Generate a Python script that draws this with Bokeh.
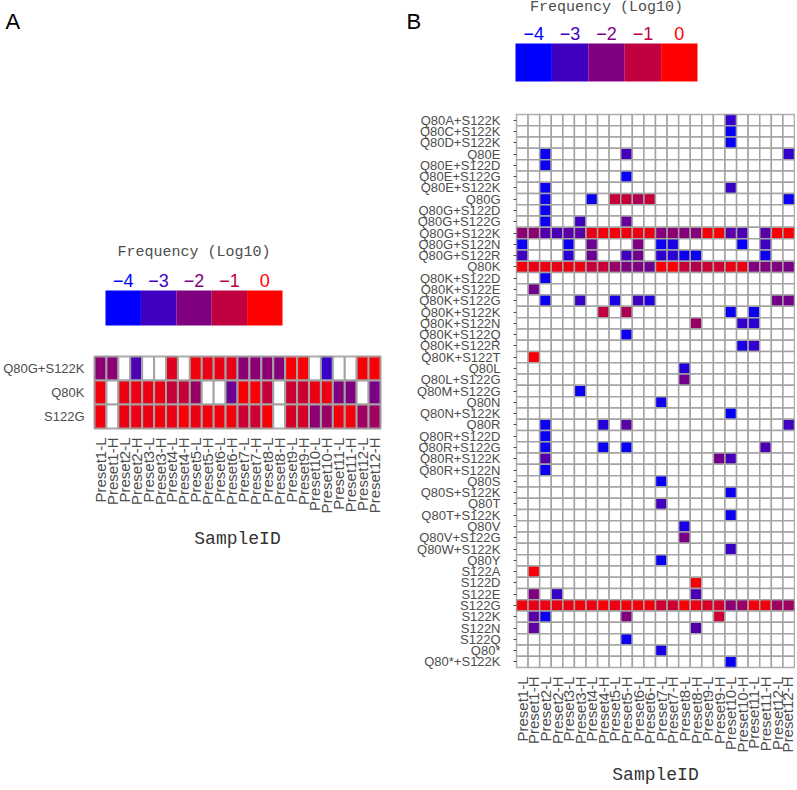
import numpy as np
from bokeh.plotting import figure
from bokeh.models import FactorRange, Range1d, ColumnDataSource, LinearColorMapper
from bokeh.transform import transform
from bokeh.layouts import row, column
from bokeh.core.properties import value
from bokeh.embed import file_html
from bokeh.resources import INLINE

# ---------------- data ----------------
samples = ["Preset1-L", "Preset1-H", "Preset2-L", "Preset2-H", "Preset3-L", "Preset3-H",
           "Preset4-L", "Preset4-H", "Preset5-L", "Preset5-H", "Preset6-L", "Preset6-H",
           "Preset7-L", "Preset7-H", "Preset8-L", "Preset8-H", "Preset9-L", "Preset9-H",
           "Preset10-L", "Preset10-H", "Preset11-L", "Preset11-H", "Preset12-L", "Preset12-H"]

legend_vals = [-4, -3, -2, -1, 0]
legend_labels = ["\u22124", "\u22123", "\u22122", "\u22121", "0"]

# Panel A (log10 frequency, None = absent)
mutations_a = ["Q80G+S122K", "Q80K", "S122G"]
a_q80g_s122k = [-1.8, -1.8, None, -2.8, None, None, -0.5, None, -0.2, -0.3, -0.3, -0.4,
                -1.8, -1.8, -1.8, -1.9, -0.1, -0.1, None, -3.1, None, None, -0.1, -0.1]
a_q80k = [-0.2, None, -0.3, -0.3, -0.3, -0.3, -0.9, -0.9, -1.6, None, None, -2.3,
          -0.1, -0.1, -0.9, None, -0.8, -0.8, -0.3, -0.3, -2.0, -2.0, None, -2.1]
a_s122g = [-0.2, None, -0.3, -0.3, -0.3, -0.2, -0.3, -0.1, -0.3, -0.2, -0.2, -0.2,
           -0.8, -0.8, -0.1, None, -0.6, -0.7, -1.8, -1.6, -0.2, -0.2, -1.5, -1.5]

# Panel B
mutations_b = ["Q80A+S122K", "Q80C+S122K", "Q80D+S122K", "Q80E", "Q80E+S122D", "Q80E+S122G",
               "Q80E+S122K", "Q80G", "Q80G+S122D", "Q80G+S122G", "Q80G+S122K", "Q80G+S122N",
               "Q80G+S122R", "Q80K", "Q80K+S122D", "Q80K+S122E", "Q80K+S122G", "Q80K+S122K",
               "Q80K+S122N", "Q80K+S122Q", "Q80K+S122R", "Q80K+S122T", "Q80L", "Q80L+S122G",
               "Q80M+S122G", "Q80N", "Q80N+S122K", "Q80R", "Q80R+S122D", "Q80R+S122G",
               "Q80R+S122K", "Q80R+S122N", "Q80S", "Q80S+S122K", "Q80T", "Q80T+S122K",
               "Q80V", "Q80V+S122G", "Q80W+S122K", "Q80Y", "S122A", "S122D", "S122E",
               "S122G", "S122K", "S122N", "S122Q", "Q80*", "Q80*+S122K"]

b_q80g_s122k = [-1.8, -1.8, -2.7, -2.8, -2.6, -2.6, -0.4, -0.2, -0.2, -0.3, -0.3, -0.3,
                -1.9, -1.8, -1.9, -1.9, -0.1, -0.1, -2.6, -2.8, None, -2.6, -0.1, -0.1]
b_q80k = [-0.2, -0.3, -0.3, -0.3, -0.3, -0.3, -0.9, -0.9, -1.6, -2.0, -2.0, -2.3,
          -0.1, -0.1, -0.9, -1.2, -0.8, -0.8, -0.3, -0.3, -2.0, -2.0, -2.0, -2.1]
b_s122g = [-0.2, -0.4, -0.3, -0.3, -0.3, -0.2, -0.3, -0.1, -0.3, -0.2, -0.2, -0.2,
           -0.8, -0.8, -0.1, -0.3, -0.6, -0.7, -1.8, -1.6, -0.2, -0.2, -1.5, -1.5]

# sparse cells of panel B: (mutation, sample, log10 frequency)
b_sparse = [
    ("Q80A+S122K", "Preset10-L", -3.2),
    ("Q80C+S122K", "Preset10-L", -3.9),
    ("Q80D+S122K", "Preset10-L", -3.9),
    ("Q80E", "Preset2-L", -3.8), ("Q80E", "Preset5-H", -2.9), ("Q80E", "Preset12-H", -3.2),
    ("Q80E+S122D", "Preset2-L", -3.8),
    ("Q80E+S122G", "Preset5-H", -3.9),
    ("Q80E+S122K", "Preset2-L", -3.8), ("Q80E+S122K", "Preset10-L", -3.1),
    ("Q80G", "Preset2-L", -3.8), ("Q80G", "Preset4-L", -3.8), ("Q80G", "Preset5-L", -0.9),
    ("Q80G", "Preset5-H", -0.9), ("Q80G", "Preset6-L", -1.3), ("Q80G", "Preset6-H", -0.9),
    ("Q80G", "Preset12-H", -3.8),
    ("Q80G+S122D", "Preset2-L", -3.8),
    ("Q80G+S122G", "Preset2-L", -3.8), ("Q80G+S122G", "Preset3-H", -3.0),
    ("Q80G+S122G", "Preset5-H", -2.4),
    ("Q80G+S122N", "Preset1-L", -3.8), ("Q80G+S122N", "Preset3-L", -3.8),
    ("Q80G+S122N", "Preset4-L", -2.3), ("Q80G+S122N", "Preset6-L", -2.0),
    ("Q80G+S122N", "Preset7-L", -3.8), ("Q80G+S122N", "Preset7-H", -3.6),
    ("Q80G+S122N", "Preset10-H", -3.9), ("Q80G+S122N", "Preset11-H", -3.0),
    ("Q80G+S122R", "Preset1-L", -3.0), ("Q80G+S122R", "Preset3-L", -3.3),
    ("Q80G+S122R", "Preset4-L", -2.3), ("Q80G+S122R", "Preset5-H", -3.0),
    ("Q80G+S122R", "Preset6-L", -2.2), ("Q80G+S122R", "Preset7-L", -3.3),
    ("Q80G+S122R", "Preset7-H", -3.3), ("Q80G+S122R", "Preset8-L", -3.8),
    ("Q80G+S122R", "Preset8-H", -3.8), ("Q80G+S122R", "Preset11-H", -3.8),
    ("Q80K+S122D", "Preset2-L", -3.8),
    ("Q80K+S122E", "Preset1-H", -2.2),
    ("Q80K+S122G", "Preset2-L", -3.8), ("Q80K+S122G", "Preset3-H", -3.1),
    ("Q80K+S122G", "Preset5-L", -3.6), ("Q80K+S122G", "Preset6-L", -3.0),
    ("Q80K+S122G", "Preset6-H", -3.5), ("Q80K+S122G", "Preset12-L", -2.2),
    ("Q80K+S122G", "Preset12-H", -2.2),
    ("Q80K+S122K", "Preset4-H", -1.0), ("Q80K+S122K", "Preset5-H", -1.3),
    ("Q80K+S122K", "Preset10-L", -3.8), ("Q80K+S122K", "Preset11-L", -3.8),
    ("Q80K+S122N", "Preset8-H", -1.6), ("Q80K+S122N", "Preset10-H", -3.2),
    ("Q80K+S122N", "Preset11-L", -3.3),
    ("Q80K+S122Q", "Preset5-H", -3.8),
    ("Q80K+S122R", "Preset10-H", -3.6), ("Q80K+S122R", "Preset11-L", -3.2),
    ("Q80K+S122T", "Preset1-H", -0.1),
    ("Q80L", "Preset8-L", -3.4),
    ("Q80L+S122G", "Preset8-L", -2.2),
    ("Q80M+S122G", "Preset3-H", -3.9),
    ("Q80N", "Preset7-L", -3.7),
    ("Q80N+S122K", "Preset10-L", -3.9),
    ("Q80R", "Preset2-L", -3.8), ("Q80R", "Preset4-H", -3.4), ("Q80R", "Preset5-H", -2.6),
    ("Q80R", "Preset12-H", -3.0),
    ("Q80R+S122D", "Preset2-L", -3.8),
    ("Q80R+S122G", "Preset2-L", -3.8), ("Q80R+S122G", "Preset4-H", -3.8),
    ("Q80R+S122G", "Preset5-H", -3.9), ("Q80R+S122G", "Preset11-H", -2.8),
    ("Q80R+S122K", "Preset2-L", -2.7), ("Q80R+S122K", "Preset9-H", -2.2),
    ("Q80R+S122K", "Preset10-L", -2.9),
    ("Q80R+S122N", "Preset2-L", -3.8),
    ("Q80S", "Preset7-L", -3.9),
    ("Q80S+S122K", "Preset10-L", -3.8),
    ("Q80T", "Preset7-L", -3.0),
    ("Q80T+S122K", "Preset10-L", -3.8),
    ("Q80V", "Preset8-L", -3.6),
    ("Q80V+S122G", "Preset8-L", -2.1),
    ("Q80W+S122K", "Preset10-L", -3.1),
    ("Q80Y", "Preset7-L", -3.8),
    ("S122A", "Preset1-H", -0.1),
    ("S122D", "Preset8-H", -0.1),
    ("S122E", "Preset1-H", -2.0), ("S122E", "Preset2-H", -3.1), ("S122E", "Preset8-H", -2.8),
    ("S122K", "Preset1-H", -2.6), ("S122K", "Preset2-L", -3.8), ("S122K", "Preset5-H", -2.0),
    ("S122K", "Preset9-H", -0.8),
    ("S122N", "Preset1-H", -2.5), ("S122N", "Preset8-H", -2.7),
    ("S122Q", "Preset5-H", -3.8),
    ("Q80*", "Preset7-L", -3.6),
    ("Q80*+S122K", "Preset10-L", -3.9),
]

# ---------------- styles ----------------
GREY_TXT = "#4d4d4d"
CELL_LINE = "#a3a3a3"
SANS = "Liberation Sans"
MONO = "Liberation Mono"

palette = ["#%02x%02x%02x" % (int(round(255 * t)), 0, int(round(255 * (1 - t))))
           for t in np.linspace(0, 1, 256)]
mapper = LinearColorMapper(palette=palette, low=-4, high=0, nan_color="white")


def grid_source(rows, cols, values):
    xs, ys, vs = [], [], []
    for r in rows:
        for c in cols:
            xs.append(c)
            ys.append(r)
            v = values.get((r, c))
            vs.append(np.nan if v is None else v)
    return ColumnDataSource(dict(x=xs, y=ys, v=vs))


def legend_fig(W, H, bar_left, bar_top, bw, bh, num_y, title_y, letter, letter_x, letter_y):
    # the frame fills the whole figure; x in legend-value units, y in pixels from top
    x0 = -4.5 - bar_left / bw
    x1 = x0 + W / bw
    p = figure(width=W, height=H, x_range=Range1d(x0, x1), y_range=Range1d(H, 0),
               toolbar_location=None, output_backend="svg", x_axis_location=None,
               y_axis_location=None, min_border=0, outline_line_color=None, title=None)
    p.grid.visible = False
    src = ColumnDataSource(dict(v=legend_vals, lab=legend_labels))
    p.rect(x="v", y=bar_top + bh / 2, width=1, height=bh, source=src,
           fill_color=transform("v", mapper), line_color=None)
    p.text(x="v", y=num_y, text="lab", source=src, text_color=transform("v", mapper),
           text_font=value(SANS), text_font_size=value("18px"), text_align="center",
           text_baseline="middle")
    p.text(x=[-2], y=[title_y], text=["Frequency (Log10)"], text_color=GREY_TXT,
           text_font=value(MONO), text_font_size=value("15px"), text_align="center",
           text_baseline="middle")
    p.text(x=[x0 + letter_x / bw], y=[letter_y], text=[letter], text_color="black",
           text_font=value(SANS), text_font_size=value("22px"), text_align="left",
           text_baseline="middle")
    return p


def heat_fig(W, H, rows, values, mb_left, mb_right, mb_top, mb_bottom, lw,
             tick_out, ylab_standoff, xlab_size, xlabel_standoff):
    p = figure(width=W, height=H, x_range=FactorRange(*samples),
               y_range=FactorRange(*list(reversed(rows))), toolbar_location=None,
               output_backend="svg", min_border_left=mb_left, min_border_right=mb_right,
               min_border_top=mb_top, min_border_bottom=mb_bottom, title=None,
               outline_line_color=CELL_LINE, outline_line_width=lw)
    src = grid_source(rows, samples, values)
    p.rect(x="x", y="y", width=1, height=1, source=src,
           fill_color=transform("v", mapper), line_color=CELL_LINE, line_width=lw)
    p.grid.visible = False
    p.axis.axis_line_color = None
    p.axis.minor_tick_line_color = None
    p.axis.major_label_text_color = GREY_TXT
    p.axis.major_label_text_font = SANS
    p.yaxis.major_label_text_font_size = "13px"
    p.xaxis.major_label_text_font_size = xlab_size
    p.xaxis.major_label_orientation = np.pi / 2
    p.xaxis.major_tick_line_color = None
    p.xaxis.major_label_standoff = 3
    p.yaxis.major_tick_out = tick_out
    p.yaxis.major_tick_in = 0
    p.yaxis.major_tick_line_color = GREY_TXT if tick_out else None
    p.yaxis.major_label_standoff = ylab_standoff
    p.xaxis.axis_label = "SampleID"
    p.xaxis.axis_label_text_font = MONO
    p.xaxis.axis_label_text_font_style = "normal"
    p.xaxis.axis_label_text_font_size = "18px"
    p.xaxis.axis_label_text_color = "#333333"
    p.xaxis.axis_label_standoff = xlabel_standoff
    return p


vals_a = {}
for r, arr in zip(mutations_a, [a_q80g_s122k, a_q80k, a_s122g]):
    for c, v in zip(samples, arr):
        vals_a[(r, c)] = v

vals_b = {}
for r, arr in zip(["Q80G+S122K", "Q80K", "S122G"], [b_q80g_s122k, b_q80k, b_s122g]):
    for c, v in zip(samples, arr):
        vals_b[(r, c)] = v
for r, c, v in b_sparse:
    vals_b[(r, c)] = v

# ---------------- layout ----------------
LW, RW = 400, 395
TOTAL_H = 788

legA = legend_fig(LW, 345, bar_left=105, bar_top=290, bw=35.4, bh=35,
                  num_y=280, title_y=252, letter="A", letter_x=5, letter_y=21)
heatA = heat_fig(LW, TOTAL_H - 345, mutations_a, vals_a, mb_left=93, mb_right=20,
                 mb_top=11, mb_bottom=TOTAL_H - 345 - 11 - 72, lw=2, tick_out=0,
                 ylab_standoff=10, xlab_size="15px", xlabel_standoff=13)

legB = legend_fig(RW, 100, bar_left=115, bar_top=43, bw=36.4, bh=38,
                  num_y=33, title_y=7, letter="B", letter_x=6, letter_y=21)
heatB = heat_fig(RW, TOTAL_H - 100, mutations_b, vals_b, mb_left=116, mb_right=1,
                 mb_top=14, mb_bottom=TOTAL_H - 100 - 14 - 560, lw=1.5, tick_out=3,
                 ylab_standoff=13, xlab_size="15px", xlabel_standoff=10)

layout = row(column(row(legA), heatA, spacing=0), column(row(legB), heatB, spacing=0),
             spacing=0)

open("out.html", "w").write(file_html(layout, INLINE))
